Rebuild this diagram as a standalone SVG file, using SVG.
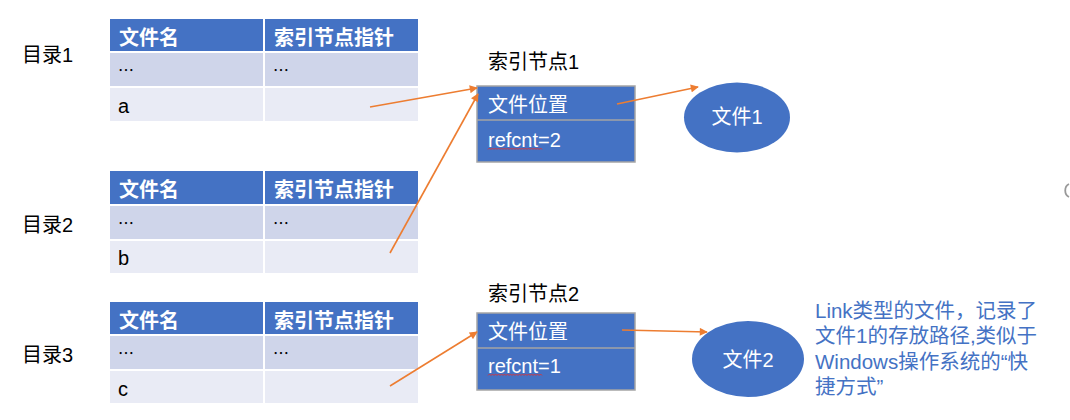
<svg xmlns="http://www.w3.org/2000/svg" width="1070" height="420" viewBox="0 0 1070 420">
<defs>
<marker id="arr" viewBox="0 0 10 10" refX="9" refY="5" markerWidth="9" markerHeight="8" markerUnits="userSpaceOnUse" orient="auto">
<path d="M0,0 L10,5 L0,10 z" fill="#ED7D31"/>
</marker>
</defs>
<style>
text{font-family:"Liberation Sans","Noto Sans CJK SC",sans-serif;}
.hd{fill:#4472C4;}
.r1{fill:#CFD5EA;}
.r2{fill:#E9EBF5;}
.ht{fill:#fff;font-size:20px;font-weight:bold;font-family:"Noto Sans CJK SC",sans-serif;}
.ct{fill:#000;font-size:20px;}
.dots{fill:#000;font-size:16px;font-family:"Noto Sans CJK SC",sans-serif;}
.lbl{fill:#000;font-size:20px;}
.box{fill:#4472C4;stroke:#A5A5A5;stroke-width:1.5;}
.div{stroke:#A5A5A5;stroke-width:1.5;}
.wt{fill:#fff;font-size:20px;}
.ell{fill:#4472C4;}
.conn{stroke:#ED7D31;stroke-width:1.6;fill:none;marker-end:url(#arr);}
.sq{stroke:#E03030;stroke-width:0.9;fill:none;}
.note{fill:#4472C4;font-size:20.5px;}
</style>

<g id="dir1">
<text class="lbl" x="22" y="62">目录1</text>
<g transform="translate(0,19)">
<rect class="hd" x="110" y="0" width="153" height="32"/>
<rect class="hd" x="265" y="0" width="153" height="32"/>
<rect class="r1" x="110" y="34" width="153" height="33"/>
<rect class="r1" x="265" y="34" width="153" height="33"/>
<rect class="r2" x="110" y="69" width="153" height="33"/>
<rect class="r2" x="265" y="69" width="153" height="33"/>
<text class="ht" x="119" y="26">文件名</text>
<text class="ht" x="274" y="26">索引节点指针</text>
<text class="dots" x="118" y="57">…</text>
<text class="dots" x="273" y="57">…</text>
<text class="ct" x="118" y="94">a</text>
</g>
</g>

<g id="dir2">
<text class="lbl" x="22" y="232">目录2</text>
<g transform="translate(0,171)">
<rect class="hd" x="110" y="0" width="153" height="33"/>
<rect class="hd" x="265" y="0" width="153" height="33"/>
<rect class="r1" x="110" y="35" width="153" height="33"/>
<rect class="r1" x="265" y="35" width="153" height="33"/>
<rect class="r2" x="110" y="70" width="153" height="32"/>
<rect class="r2" x="265" y="70" width="153" height="32"/>
<text class="ht" x="119" y="26">文件名</text>
<text class="ht" x="274" y="26">索引节点指针</text>
<text class="dots" x="118" y="58">…</text>
<text class="dots" x="273" y="58">…</text>
<text class="ct" x="118" y="94">b</text>
</g>
</g>

<g id="dir3">
<text class="lbl" x="22" y="362">目录3</text>
<g transform="translate(0,302)">
<rect class="hd" x="110" y="0" width="153" height="32"/>
<rect class="hd" x="265" y="0" width="153" height="32"/>
<rect class="r1" x="110" y="34" width="153" height="33"/>
<rect class="r1" x="265" y="34" width="153" height="33"/>
<rect class="r2" x="110" y="69" width="153" height="32"/>
<rect class="r2" x="265" y="69" width="153" height="32"/>
<text class="ht" x="119" y="26">文件名</text>
<text class="ht" x="274" y="26">索引节点指针</text>
<text class="dots" x="118" y="57">…</text>
<text class="dots" x="273" y="57">…</text>
<text class="ct" x="118" y="94">c</text>
</g>
</g>

<g id="inode1">
<text class="lbl" x="488" y="69">索引节点1</text>
<rect class="box" x="477" y="86" width="158" height="76"/>
<line class="div" x1="477" y1="120" x2="635" y2="120"/>
<text class="wt" x="488" y="112">文件位置</text>
<text class="wt" x="488" y="147">refcnt=2</text>
<path class="sq" d="M488,149.5 l1.5,-1.5 l1.5,1.5 l1.5,-1.5 l1.5,1.5 l1.5,-1.5 l1.5,1.5 l1.5,-1.5 l1.5,1.5 l1.5,-1.5 l1.5,1.5 l1.5,-1.5 l1.5,1.5 l1.5,-1.5 l1.5,1.5 l1.5,-1.5 l1.5,1.5 l1.5,-1.5 l1.5,1.5 l1.5,-1.5 l1.5,1.5 l1.5,-1.5 l1.5,1.5 l1.5,-1.5 l1.5,1.5 l1.5,-1.5 l1.5,1.5 l1.5,-1.5 l1.5,1.5 l1.5,-1.5 l1.5,1.5 l1.5,-1.5 l1.5,1.5 l1.5,-1.5 l1.5,1.5 l1.5,-1.5 l1.5,1.5"/>
</g>

<g id="inode2">
<text class="lbl" x="488" y="301">索引节点2</text>
<rect class="box" x="477" y="313" width="158" height="77"/>
<line class="div" x1="477" y1="348" x2="635" y2="348"/>
<text class="wt" x="488" y="339">文件位置</text>
<text class="wt" x="488" y="373">refcnt=1</text>
<path class="sq" d="M488,375.5 l1.5,-1.5 l1.5,1.5 l1.5,-1.5 l1.5,1.5 l1.5,-1.5 l1.5,1.5 l1.5,-1.5 l1.5,1.5 l1.5,-1.5 l1.5,1.5 l1.5,-1.5 l1.5,1.5 l1.5,-1.5 l1.5,1.5 l1.5,-1.5 l1.5,1.5 l1.5,-1.5 l1.5,1.5 l1.5,-1.5 l1.5,1.5 l1.5,-1.5 l1.5,1.5 l1.5,-1.5 l1.5,1.5 l1.5,-1.5 l1.5,1.5 l1.5,-1.5 l1.5,1.5 l1.5,-1.5 l1.5,1.5 l1.5,-1.5 l1.5,1.5 l1.5,-1.5 l1.5,1.5 l1.5,-1.5 l1.5,1.5"/>
</g>

<g id="file1">
<ellipse class="ell" cx="737" cy="117.5" rx="53" ry="35"/>
<text class="wt" x="737" y="124" text-anchor="middle">文件1</text>
</g>

<g id="file2">
<ellipse class="ell" cx="748" cy="359" rx="56" ry="38"/>
<text class="wt" x="748" y="367" text-anchor="middle">文件2</text>
</g>

<g id="note">
<text class="note" x="815" y="318">Link类型的文件，记录了</text>
<text class="note" x="815" y="343">文件1的存放路径,类似于</text>
<text class="note" x="815" y="369">Windows操作系统的“快</text>
<text class="note" x="815" y="394">捷方式”</text>
</g>

<g id="connectors">
<line class="conn" x1="370" y1="107" x2="477" y2="88"/>
<line class="conn" x1="390" y1="253" x2="478" y2="94"/>
<line class="conn" x1="617" y1="104" x2="698" y2="87"/>
<line class="conn" x1="390" y1="386" x2="477" y2="332"/>
<line class="conn" x1="622" y1="330" x2="707" y2="332"/>
</g>

<path d="M1069,184 A6,7 0 0 0 1069,197" stroke="#999" stroke-width="1.8" fill="none"/>
</svg>
